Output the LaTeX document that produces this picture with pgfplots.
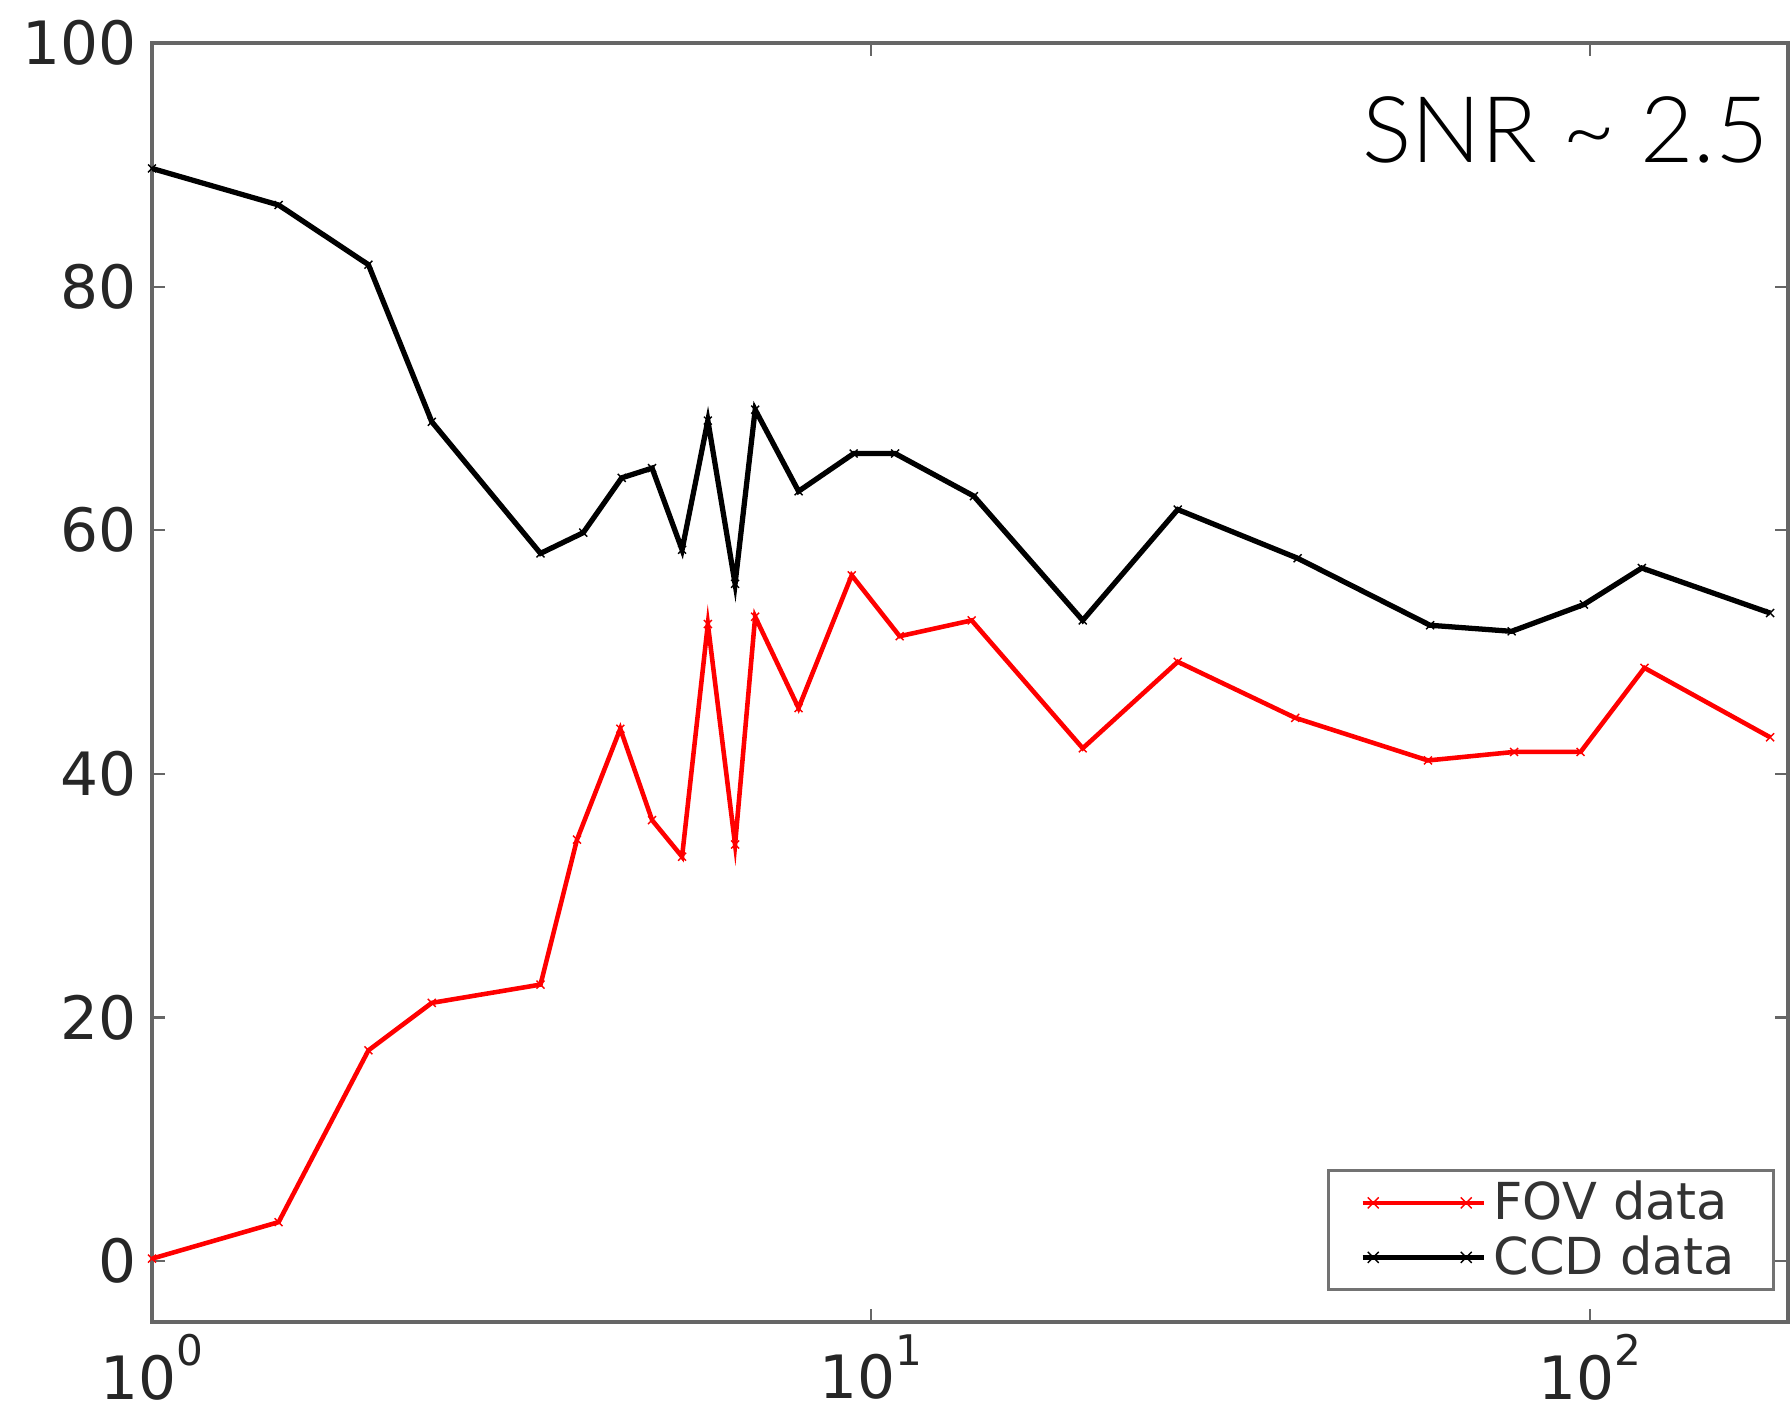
\documentclass[border=0pt]{standalone}
\usepackage{pgfplots}
\pgfplotsset{compat=1.18}
\usepackage{fontspec}
\setmainfont{DejaVu Sans}
\newfontfamily\snrfont{Lato}[UprightFont=* Light]
\pgfplotstableread{
x y
1 89.7
1.5 86.7
2 81.8
2.45 68.9
3.47 58.1
3.98 59.8
4.5 64.3
4.96 65.1
5.46 58.4
5.93 69.0
6.47 55.6
6.9 69.9
7.93 63.2
9.46 66.3
10.8 66.3
13.9 62.8
19.7 52.6
26.7 61.7
39.2 57.7
59.9 52.2
77.8 51.7
98 53.9
118 56.9
178 53.2
}\ccd
\pgfplotstableread{
x y
1 0.2
1.5 3.2
2 17.3
2.45 21.2
3.47 22.7
3.9 34.6
4.48 43.7
4.96 36.2
5.46 33.2
5.93 52.3
6.47 34.2
6.9 52.9
7.93 45.4
9.4 56.3
10.96 51.3
13.8 52.6
19.7 42.1
26.7 49.2
38.9 44.6
59.5 41.1
78.4 41.8
97 41.8
119 48.7
178 43.0
}\fov
\begin{document}
\begin{tikzpicture}
\begin{axis}[
  at={(0,0)}, anchor=south west,
  scale only axis,
  width=16.36cm, height=12.79cm,
  xmode=log, log basis x=10,
  xmin=1, xmax=188.5, ymin=-5, ymax=100,
  ytick={0,20,40,60,80,100},
  xtick={1,10,100},
  xticklabels={{10\raisebox{9.5pt}{\fontsize{12}{12}\selectfont 0}},{10\raisebox{9.5pt}{\fontsize{12}{12}\selectfont 1}},{10\raisebox{9.5pt}{\fontsize{12}{12}\selectfont 2}}},
  /pgf/number format/assume math mode=true,
  tick label style={font=\fontsize{17}{17}\selectfont, text=black!85},
  yticklabel style={xshift=-1pt},
  xticklabel style={yshift=0pt},
  tick align=inside,
  major tick length=1.3mm, minor tick length=0.7mm,
  every tick/.style={black!60, line width=0.6pt},
  axis line style={black!60, line width=1pt},
  legend style={at={(0.9920,0.0240)}, anchor=south east,
    draw=black!55, line width=0.8pt,
    font=\fontsize{14.5}{16}\selectfont, text=black!80,
    inner xsep=9pt, inner ysep=1pt, row sep=-1pt},
  legend cell align=left,
  legend image code/.code={\path (-3pt,0pt) -- (0.93cm+5pt,0pt); \draw plot[mark size=2.2pt] coordinates {(0cm,0cm)(0.93cm,0cm)};},
]
\addplot[red, line width=1.3pt, mark=x, mark size=1.6pt, mark options={line width=0.4pt, solid}] table {\fov};
\addlegendentry{FOV data}
\addplot[black, line width=1.5pt, mark=x, mark size=1.6pt, mark options={line width=0.4pt, solid}] table {\ccd};
\addlegendentry{CCD data}
\node[anchor=base east, inner sep=0pt, font=\snrfont\fontsize{26.2}{27}\selectfont] at (rel axis cs:0.9887,0.9062) {SNR \textasciitilde{} 2.5};
\end{axis}
\pgfresetboundingbox
\path[use as bounding box] (-1.52cm,-0.98cm) rectangle (16.38cm,13.22cm);
\end{tikzpicture}
\end{document}
